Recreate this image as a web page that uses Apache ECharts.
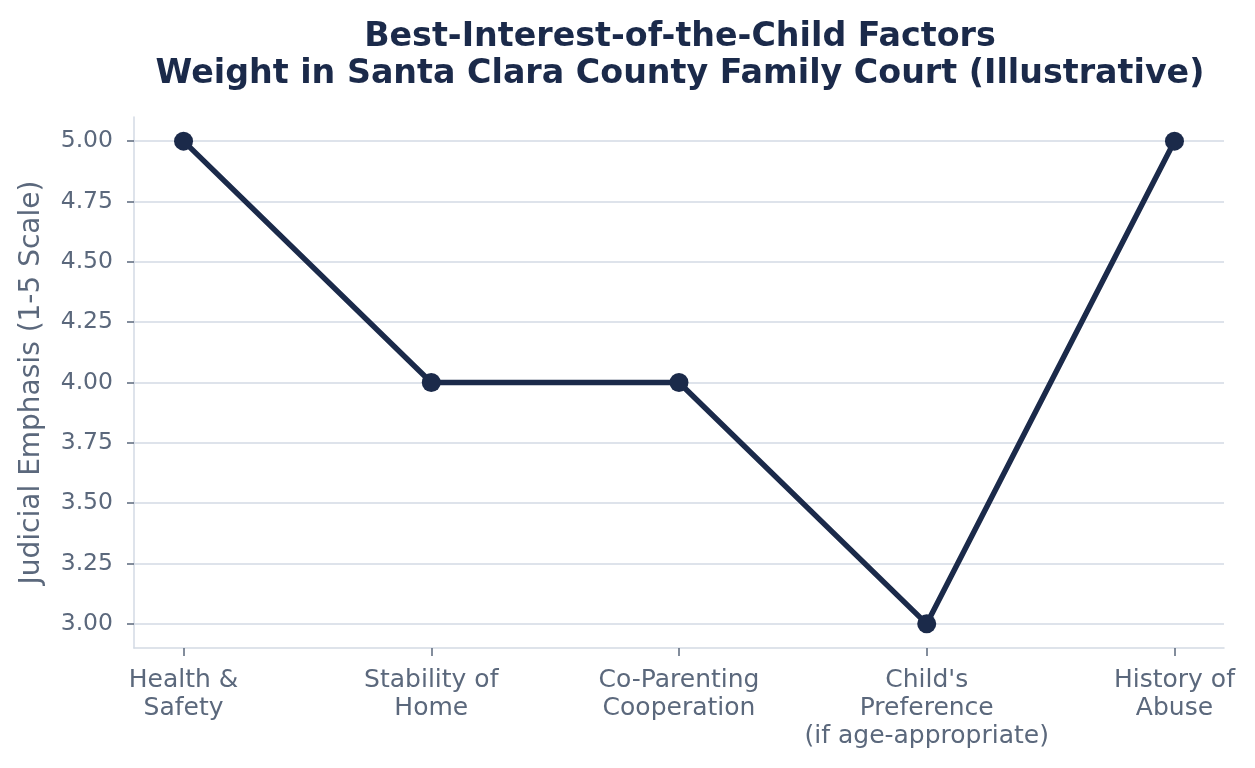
<!DOCTYPE html>
<html>
<head>
<meta charset="utf-8">
<script src="https://cdn.jsdelivr.net/npm/echarts@6/dist/echarts.min.js"></script>
<style>
html,body{margin:0;padding:0;background:#fff;}
#chart{width:1255px;height:768px;}
</style>
</head>
<body>
<div id="chart"></div>
<script>
const categories = ["Health &\nSafety", "Stability of\nHome", "Co-Parenting\nCooperation", "Child's\nPreference\n(if age-appropriate)", "History of\nAbuse"];
const emphasis = [5, 4, 4, 3, 5];
const yTicks = [3.00, 3.25, 3.50, 3.75, 4.00, 4.25, 4.50, 4.75, 5.00];
const titleText = "Best-Interest-of-the-Child Factors\nWeight in Santa Clara County Family Court (Illustrative)";
const yName = "Judicial Emphasis (1-5 Scale)";

const navy = '#1b2a4a';
const muted = '#5b687c';
const gridCol = '#d3dae4';
const font = 'DejaVu Sans';
const xIdx = categories.map((c, i) => i);

const chart = echarts.init(document.getElementById('chart'), null, {renderer: 'canvas'});
chart.setOption({
  animation: false,
  backgroundColor: '#fff',
  title: {
    text: titleText,
    left: 675, textAlign: 'center', top: 14,
    textStyle: {fontFamily: font, fontWeight: 'bold', fontSize: 33.3, color: navy, lineHeight: 37}
  },
  grid: {left: 134, right: 31, top: 117, bottom: 120, containLabel: false},
  xAxis: {
    type: 'value', min: -0.2, max: 4.2,
    axisLine: {show: true, onZero: false, lineStyle: {color: gridCol, width: 1.5}},
    axisTick: {show: true, customValues: xIdx, length: 8, lineStyle: {color: muted, width: 1.5}},
    axisLabel: {
      customValues: xIdx, margin: 18,
      formatter: v => categories[Math.round(v)] || '',
      fontFamily: font, fontSize: 25, color: muted, lineHeight: 28, align: 'center'
    },
    splitLine: {show: false}
  },
  yAxis: {
    type: 'value', min: 2.9, max: 5.1,
    name: yName, nameLocation: 'middle', nameGap: 88,
    nameTextStyle: {fontFamily: font, fontSize: 28, color: muted},
    axisLine: {show: true, onZero: false, lineStyle: {color: gridCol, width: 1.5}},
    axisTick: {show: true, customValues: yTicks, length: 7, lineStyle: {color: muted, width: 1.5}},
    axisLabel: {
      customValues: yTicks, margin: 21,
      formatter: v => v.toFixed(2),
      fontFamily: font, fontSize: 23.5, color: muted
    },
    splitLine: {show: true, customValues: yTicks, lineStyle: {color: gridCol, width: 1.5}}
  },
  series: [{
    type: 'line',
    data: emphasis.map((v, i) => [i, v]),
    symbol: 'circle', symbolSize: 19,
    lineStyle: {color: navy, width: 5.5},
    itemStyle: {color: navy},
    z: 5
  }]
});
</script>
</body>
</html>
